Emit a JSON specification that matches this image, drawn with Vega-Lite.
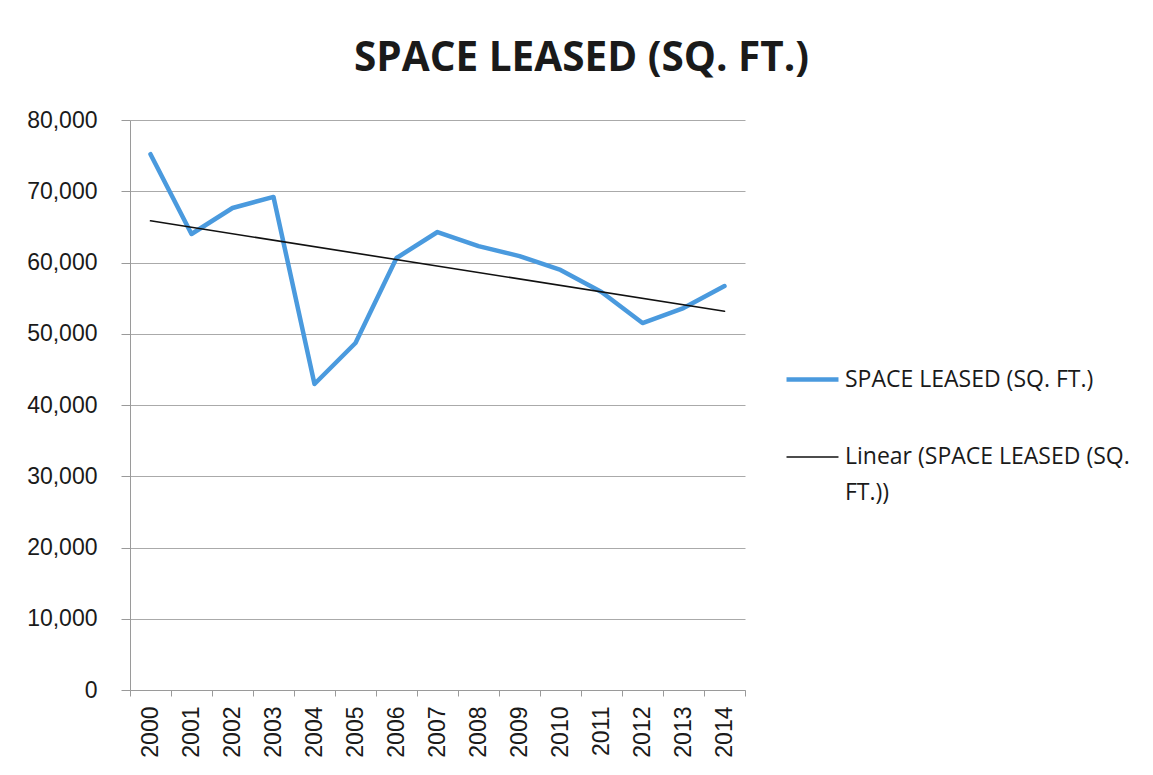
{
  "$schema": "https://vega.github.io/schema/vega-lite/v6.json",
  "width": 615,
  "height": 570,
  "autosize": {"type": "none"},
  "padding": {"left": 130, "top": 120, "right": 408, "bottom": 85},
  "background": "white",
  "title": {
    "text": "SPACE LEASED (SQ. FT.)",
    "font": "Open Sans",
    "fontSize": 40.5,
    "fontWeight": 700,
    "color": "#1a1a1a",
    "anchor": "middle",
    "baseline": "alphabetic",
    "offset": 36,
    "dx": 144,
    "dy": 38
  },
  "data": {
    "values": [
      {"series": "SPACE LEASED (SQ. FT.)", "year": "2000", "value": 75200},
      {"series": "SPACE LEASED (SQ. FT.)", "year": "2001", "value": 64000},
      {"series": "SPACE LEASED (SQ. FT.)", "year": "2002", "value": 67650},
      {"series": "SPACE LEASED (SQ. FT.)", "year": "2003", "value": 69200},
      {"series": "SPACE LEASED (SQ. FT.)", "year": "2004", "value": 42950},
      {"series": "SPACE LEASED (SQ. FT.)", "year": "2005", "value": 48700},
      {"series": "SPACE LEASED (SQ. FT.)", "year": "2006", "value": 60630},
      {"series": "SPACE LEASED (SQ. FT.)", "year": "2007", "value": 64280},
      {"series": "SPACE LEASED (SQ. FT.)", "year": "2008", "value": 62300},
      {"series": "SPACE LEASED (SQ. FT.)", "year": "2009", "value": 60900},
      {"series": "SPACE LEASED (SQ. FT.)", "year": "2010", "value": 58950},
      {"series": "SPACE LEASED (SQ. FT.)", "year": "2011", "value": 55860},
      {"series": "SPACE LEASED (SQ. FT.)", "year": "2012", "value": 51500},
      {"series": "SPACE LEASED (SQ. FT.)", "year": "2013", "value": 53600},
      {"series": "SPACE LEASED (SQ. FT.)", "year": "2014", "value": 56700},
      {"series": "Linear (SPACE LEASED (SQ. FT.))", "year": "2000", "value": 65850},
      {"series": "Linear (SPACE LEASED (SQ. FT.))", "year": "2014", "value": 53150}
    ]
  },
  "config": {
    "view": {"stroke": null},
    "style": {"guide-label": {"lineHeight": 36}},
    "axis": {
      "labelFont": "Liberation Sans",
      "labelFontSize": 23,
      "labelColor": "#1a1a1a",
      "domainColor": "#9a9a9a",
      "tickColor": "#9a9a9a",
      "gridColor": "#aaaaaa",
      "title": null
    },
    "legend": {
      "labelFont": "Open Sans",
      "labelFontSize": 23,
      "labelColor": "#1a1a1a"
    }
  },
  "mark": {"type": "line", "strokeJoin": "round", "strokeCap": "round"},
  "encoding": {
    "x": {
      "field": "year",
      "type": "ordinal",
      "scale": {"paddingInner": 0, "paddingOuter": 0},
      "axis": {
        "labelAngle": 270,
        "labelAlign": "right",
        "labelBaseline": "middle",
        "tickBand": "extent",
        "tickSize": 6,
        "labelPadding": 10,
        "grid": false
      }
    },
    "y": {
      "field": "value",
      "type": "quantitative",
      "scale": {"domain": [0, 80000], "nice": false},
      "axis": {
        "values": [0, 10000, 20000, 30000, 40000, 50000, 60000, 70000, 80000],
        "format": ",d",
        "tickSize": 9,
        "labelPadding": 24,
        "grid": true
      }
    },
    "color": {
      "field": "series",
      "type": "nominal",
      "scale": {
        "domain": ["SPACE LEASED (SQ. FT.)", "Linear (SPACE LEASED (SQ. FT.))"],
        "range": ["#4a9ade", "#111111"]
      },
      "legend": {
        "title": null,
        "orient": "none",
        "legendX": 654,
        "legendY": 231,
        "symbolType": "stroke",
        "symbolSize": 2700,
        "labelOffset": 4,
        "rowPadding": 38,
        "labelLimit": 400,
        "labelExpr": "datum.label == 'Linear (SPACE LEASED (SQ. FT.))' ? ['Linear (SPACE LEASED (SQ.', 'FT.))'] : datum.label"
      }
    },
    "strokeWidth": {
      "field": "series",
      "type": "nominal",
      "scale": {
        "type": "ordinal",
        "domain": ["SPACE LEASED (SQ. FT.)", "Linear (SPACE LEASED (SQ. FT.))"],
        "range": [4.5, 1.6]
      },
      "legend": {
        "title": null,
        "orient": "none",
        "legendX": 654,
        "legendY": 231,
        "symbolType": "stroke",
        "symbolSize": 2700,
        "labelOffset": 4,
        "rowPadding": 38,
        "labelLimit": 400,
        "labelExpr": "datum.label == 'Linear (SPACE LEASED (SQ. FT.))' ? ['Linear (SPACE LEASED (SQ.', 'FT.))'] : datum.label"
      }
    }
  }
}
